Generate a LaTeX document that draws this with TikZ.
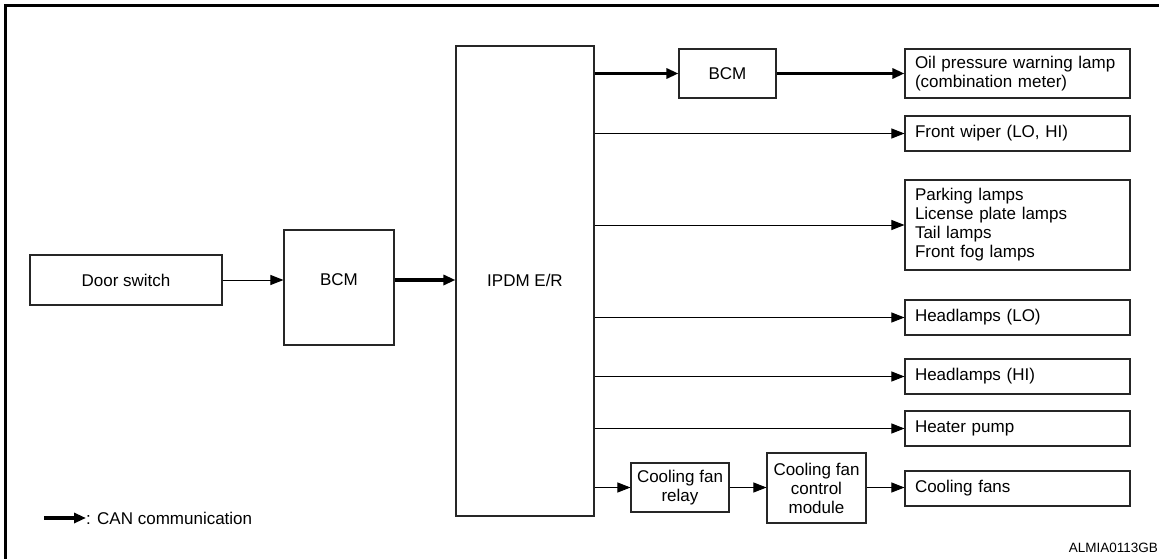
\documentclass[tikz,border=0pt]{standalone}
\usepackage{fontspec}
\setmainfont{Liberation Sans}
\usetikzlibrary{arrows.meta}
\begin{document}
\begin{tikzpicture}[x=1pt,y=-1pt,
  box/.style={draw=black!85,line width=1.1pt,rectangle,inner sep=0pt,font=\fontsize{17}{19}\selectfont,align=center},
  thin/.style={line width=1pt,-{Triangle[length=13pt,width=10pt]}},
  can/.style={line width=3.2pt,-{Triangle[length=12pt,width=10pt]}},
  txt/.style={font=\fontsize{17}{19}\selectfont,inner sep=0pt}]
\useasboundingbox (0,0) rectangle (1159,559);
% frame
\draw[line width=3pt] (5.5,559) -- (5.5,5.5) -- (1159,5.5);
% nodes
\node[box,minimum width=192pt,minimum height=50pt] (door) at (126,280) {Door switch};
\node[box,minimum width=110pt,minimum height=115pt] (bcma) at (339,287.5) {};
\node[txt] (bcmat) at (339,280) {BCM};
\node[box,minimum width=138pt,minimum height=470pt] (ipdm) at (525,281) {};
\node[txt] (ipdmt) at (525,280) {IPDM E/R};
\node[box,minimum width=97pt,minimum height=49pt] (bcmb) at (727.5,73.5) {BCM};
\node[box,minimum width=225pt,minimum height=49pt,text width=205pt,align=left] (oil) at (1017.5,73.5) {Oil pressure warning lamp\\(combination meter)};
\node[box,minimum width=225pt,minimum height=35pt,text width=205pt,align=left] (wiper) at (1017.5,133.5) {Front wiper (LO, HI)};
\node[box,minimum width=225pt,minimum height=90pt,text width=205pt,align=left] (park) at (1017.5,225) {Parking lamps\\License plate lamps\\Tail lamps\\Front fog lamps};
\node[box,minimum width=225pt,minimum height=35pt,text width=205pt,align=left] (hlo) at (1017.5,317.5) {Headlamps (LO)};
\node[box,minimum width=225pt,minimum height=35pt,text width=205pt,align=left] (hhi) at (1017.5,376.5) {Headlamps (HI)};
\node[box,minimum width=225pt,minimum height=35pt,text width=205pt,align=left] (heat) at (1017.5,428.5) {Heater pump};
\node[box,minimum width=225pt,minimum height=35pt,text width=205pt,align=left] (fans) at (1017.5,488.5) {Cooling fans};
\node[box,minimum width=98pt,minimum height=49pt] (relay) at (680,487.5) {Cooling fan\\relay};
\node[box,minimum width=99pt,minimum height=70pt] (ctrl) at (816.5,488) {Cooling fan\\control\\module};
% connectors
\draw[thin] (door.east) -- (door.east -| bcma.west);
\draw[can] (bcmat -| bcma.east) -- (bcmat -| ipdm.west);
\draw[can] (bcmb.west -| ipdm.east) -- (bcmb.west);
\draw[can] (bcmb.east) -- (oil.west);
\draw[thin] (wiper.west -| ipdm.east) -- (wiper.west);
\draw[thin] (park.west -| ipdm.east) -- (park.west);
\draw[thin] (hlo.west -| ipdm.east) -- (hlo.west);
\draw[thin] (hhi.west -| ipdm.east) -- (hhi.west);
\draw[thin] (heat.west -| ipdm.east) -- (heat.west);
\draw[thin] (relay.west -| ipdm.east) -- (relay.west);
\draw[thin] (relay.east) -- (relay.east -| ctrl.west);
\draw[thin] (relay.east -| ctrl.east) -- (relay.east -| fans.west);
% legend
\coordinate (lga) at (44,518);
\node[txt,anchor=west] (lgt) at (86,518) {: CAN communication};
\draw[can] (lga) -- (lgt.west);
\node[font=\fontsize{13.5}{16}\selectfont,inner sep=0pt,anchor=east] (code) at (1158,548) {ALMIA0113GB};
\end{tikzpicture}
\end{document}
